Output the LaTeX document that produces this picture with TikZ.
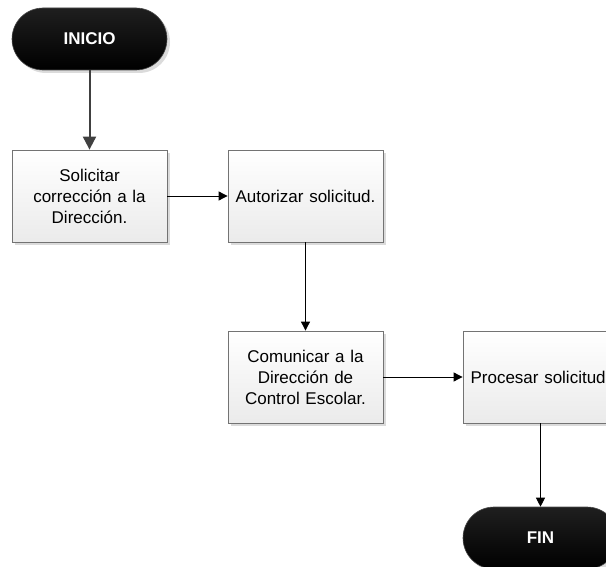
\documentclass[tikz,border=0pt]{standalone}
\usepackage{fontspec}
\setmainfont{Liberation Sans}
\usetikzlibrary{arrows.meta,shadows}
\begin{document}
\begin{tikzpicture}[x=1pt,y=-1pt,
  procbox/.style={draw=black!55, line width=0.8pt, top color=white, bottom color=black!8,
    minimum width=155pt, minimum height=92pt, inner sep=0pt, align=center, text width=150pt,
    font=\fontsize{17}{21}\selectfont,
    drop shadow={shadow xshift=3pt, shadow yshift=-3pt, fill=black!20, opacity=0.7}},
  termbox/.style={draw=black!70, line width=0.6pt, top color=black!88, bottom color=black,
    rounded corners=31pt, minimum width=155pt, minimum height=62pt, inner sep=0pt,
    text=white, font=\fontsize{17}{20}\selectfont\bfseries,
    drop shadow={shadow xshift=3pt, shadow yshift=-3pt, fill=black!20, opacity=0.7}},
  flow/.style={draw=black, line width=0.9pt, -{Triangle[length=9pt,width=9pt]}},
  startflow/.style={draw=black!75, line width=2pt, -{Triangle[length=13pt,width=13pt]}}
]
\useasboundingbox (0,0) rectangle (606,567);
\node[termbox] (ini) at (89.5,39) {INICIO};
\node[procbox] (b1) at (89.5,196) {Solicitar\\corrección a la\\Dirección.};
\node[procbox] (b2) at (305.5,196) {Autorizar solicitud.};
\node[procbox] (b3) at (305.5,377) {Comunicar a la\\Dirección de\\Control Escolar.};
\node[procbox] (b4) at (540.5,377) {Procesar solicitud.};
\node[termbox] (fin) at (540.5,538) {FIN};
\draw[startflow] (ini) -- (b1);
\draw[flow] (b1) -- (b2);
\draw[flow] (b2) -- (b3);
\draw[flow] (b3) -- (b4);
\draw[flow] (b4) -- (fin);
\end{tikzpicture}
\end{document}
